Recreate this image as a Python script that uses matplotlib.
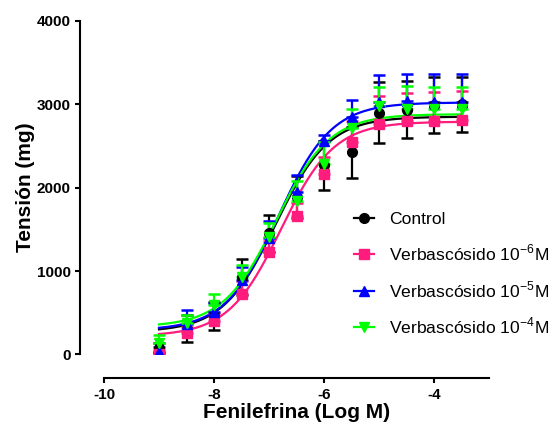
import numpy as np
import matplotlib
matplotlib.use('Agg')
import matplotlib.pyplot as plt
from matplotlib.lines import Line2D

plt.rcParams['font.family'] = ['Liberation Sans', 'DejaVu Sans']
plt.rcParams['mathtext.fontset'] = 'custom'
plt.rcParams['mathtext.rm'] = 'Liberation Sans'
plt.rcParams['axes.unicode_minus'] = False

# log [fenilefrina]
log_dose = [-9, -8.5, -8, -7.5, -7, -6.5, -6, -5.5, -5, -4.5, -4, -3.5]

control = [80, 310, 460, 930, 1450, 1890, 2265, 2425, 2895, 2935, 2990, 3000]
control_err = [60, 165, 170, 215, 225, 250, 290, 305, 365, 345, 335, 330]

verb6 = [10, 253, 400, 730, 1230, 1665, 2165, 2545, 2760, 2800, 2800, 2810]
verb6_err = [40, 80, 100, 150, 130, 150, 200, 255, 340, 330, 350, 350]

verb5 = [35, 360, 510, 890, 1390, 1950, 2560, 2850, 3030, 3040, 3020, 3020]
verb5_err = [60, 170, 110, 160, 210, 200, 70, 200, 320, 325, 345, 345]

verb4 = [137, 380, 590, 925, 1410, 1845, 2285, 2720, 2980, 2940, 2940, 2940]
verb4_err = [100, 90, 140, 145, 165, 240, 260, 225, 220, 280, 260, 260]

# sigmoidal fit parameters: bottom, top, logEC50, hill slope
fits = {
    'control': (270, 2850, -6.88, 0.9),
    'verb6': (220, 2790, -6.78, 0.9),
    'verb5': (290, 3020, -6.83, 0.9),
    'verb4': (330, 2880, -6.87, 0.9),
}

labels = ['Control',
          'Verbascósido 10$^{\\mathregular{-6}}$M',
          'Verbascósido 10$^{\\mathregular{-5}}$M',
          'Verbascósido 10$^{\\mathregular{-4}}$M']
colors = ['black', '#FF1C7C', '#0000FF', '#00FF00']
markers = ['o', 's', '^', 'v']
both_dirs = [True, False, False, False]  # control bars go both ways, others only up

fig = plt.figure(figsize=(5.55, 4.34), dpi=100)
ax = fig.add_axes([0.1874, 0.1832, 0.6937, 0.7691])

series = [(control, control_err, 'control'), (verb6, verb6_err, 'verb6'),
          (verb5, verb5_err, 'verb5'), (verb4, verb4_err, 'verb4')]

xx = np.linspace(-9, -3.5, 300)
handles = []
for (y, e, key), c, m, lab, both in zip(series, colors, markers, labels, both_dirs):
    b, t, ec, h = fits[key]
    curve = b + (t - b) / (1 + 10 ** ((ec - xx) * h))
    ax.plot(xx, curve, color=c, lw=1.6, zorder=2)
    if both:
        err = e
    else:
        err = [np.zeros(len(e)), e]
    ax.errorbar(log_dose, y, yerr=err, fmt='none', ecolor=c, elinewidth=1.6,
                capsize=4.5, capthick=1.8, zorder=3)
    ax.plot(log_dose, y, m, color=c, ms=7, zorder=4)
    handles.append(Line2D([], [], color=c, marker=m, lw=1.6, ms=7, label=lab))

ax.set_xlim(-10, -3)
ax.set_ylim(0, 4000)
ax.set_xticks([-10, -8, -6, -4])
ax.set_yticks([0, 1000, 2000, 3000, 4000])

for s in ['top', 'right']:
    ax.spines[s].set_visible(False)
ax.spines['left'].set_position(('outward', 17))
ax.spines['bottom'].set_position(('outward', 17))
for s in ['left', 'bottom']:
    ax.spines[s].set_linewidth(1.5)
ax.tick_params(width=1.5, length=3.5, labelsize=11)
for lab in ax.get_xticklabels() + ax.get_yticklabels():
    lab.set_fontweight('bold')

ax.set_xlabel('Fenilefrina (Log M)', fontsize=15, fontweight='bold', labelpad=1)
ax.set_ylabel('Tensión (mg)', fontsize=15, fontweight='bold', labelpad=1)

fig.legend(handles=handles, loc='upper left', bbox_to_anchor=(354 / 555, 1 - 212 / 434),
           frameon=False, fontsize=12.6, handlelength=1.15, handletextpad=0.85,
           labelspacing=0.9, borderpad=0, borderaxespad=0)

fig.savefig('out.png', dpi=100)
